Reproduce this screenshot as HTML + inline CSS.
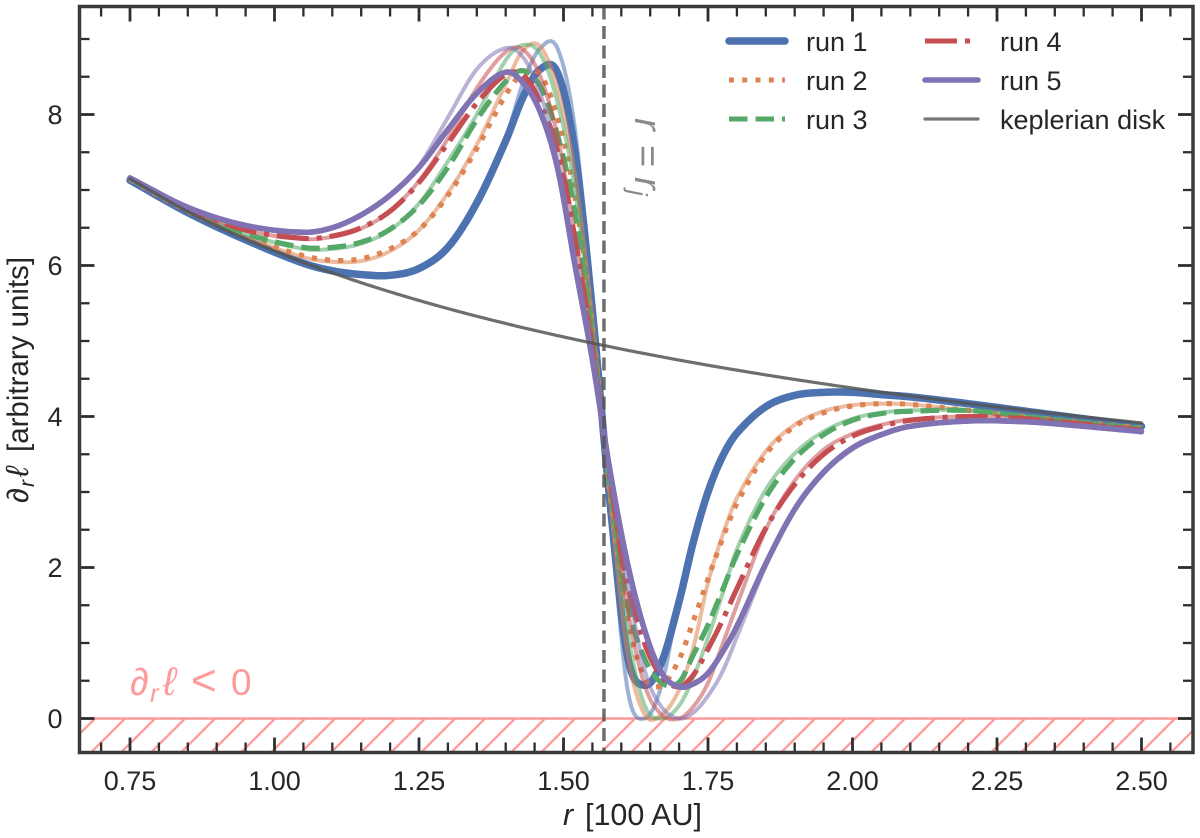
<!DOCTYPE html>
<html>
<head>
<meta charset="utf-8">
<title>Angular momentum gradient chart</title>
<style>
html,body{margin:0;padding:0;background:#fff;}
svg{display:block;font-family:"Liberation Sans",Arial,sans-serif;filter:blur(0.35px);}
</style>
</head>
<body>
<svg id="chart" width="1200" height="838" viewBox="0 0 1200 838" xmlns="http://www.w3.org/2000/svg">
  <rect x="0" y="0" width="1200" height="838" fill="#ffffff"/>
  <g id="hatch"></g>
  <g id="series"></g>
  <line id="vline" stroke="#555555" stroke-opacity="0.85" stroke-width="3.5" stroke-dasharray="13 6.5"/>
  <g id="ticks"></g>
  <rect x="79.5" y="6.5" width="1113.5" height="746" fill="none" stroke="#3a3a3a" stroke-width="3.5"/>
  <g id="labels" fill="#262626" font-size="27"></g>
  <text y="825" font-size="30.5" fill="#262626"><tspan x="563" font-style="italic">r</tspan><tspan x="585">[100 AU]</tspan></text>
  <text transform="translate(28,0) rotate(-90)" font-size="29.5" fill="#262626"><tspan x="-503" font-size="30">∂</tspan><tspan x="-487" font-size="21" dy="6" font-style="italic">r</tspan><tspan x="-477" dy="-6" font-size="32" font-style="italic">ℓ</tspan><tspan x="-452">[arbitrary units]</tspan></text>
  <text y="695" font-size="37" fill="#ff9a9a"><tspan x="130" font-size="38">∂</tspan><tspan x="150" font-size="26" dy="7" font-style="italic">r</tspan><tspan x="163" dy="-7" font-size="40" font-style="italic">ℓ</tspan><tspan x="191" font-size="44">&lt;</tspan><tspan x="231">0</tspan></text>
  <text transform="translate(635,118) rotate(90)" font-size="38" fill="#8a8a8a"><tspan x="0" font-style="italic">r</tspan><tspan x="27">=</tspan><tspan x="59" font-style="italic">r</tspan><tspan x="72" font-size="26" dy="6" font-style="italic">j</tspan></text>
  <g id="legend" font-size="27" fill="#262626"></g>
</svg>
<script>
// ---- data ----
const radius = [0.75,0.85,0.95,1.05,1.10,1.15,1.20,1.25,1.30,1.35,1.40,1.43,1.46,1.49,1.52,1.55,1.58,1.61,1.64,1.67,1.70,1.725,1.75,1.775,1.80,1.85,1.90,1.95,2.00,2.05,2.10,2.20,2.30,2.40,2.50];
const run1 = [7.13,6.70,6.34,6.03,5.93,5.88,5.87,5.96,6.24,6.83,7.65,8.23,8.60,8.55,7.50,5.40,2.90,0.85,0.44,0.75,1.55,2.35,3.00,3.47,3.78,4.13,4.28,4.32,4.32,4.29,4.26,4.17,4.07,3.97,3.87];
const run2 = [7.14,6.72,6.38,6.13,6.07,6.09,6.22,6.47,6.93,7.55,8.26,8.55,8.53,7.95,6.90,5.20,3.00,1.35,0.55,0.44,0.78,1.30,1.85,2.38,2.85,3.50,3.87,4.05,4.14,4.17,4.16,4.08,4.00,3.92,3.85];
const run3 = [7.15,6.74,6.42,6.24,6.24,6.31,6.48,6.80,7.30,7.93,8.44,8.58,8.37,7.72,6.70,5.05,3.10,1.55,0.80,0.47,0.48,0.85,1.24,1.70,2.17,2.93,3.44,3.76,3.95,4.04,4.07,4.08,4.00,3.92,3.84];
const run4 = [7.16,6.75,6.47,6.36,6.39,6.50,6.72,7.10,7.62,8.15,8.53,8.52,8.16,7.50,6.35,4.90,3.20,1.80,1.00,0.55,0.42,0.58,0.92,1.30,1.72,2.52,3.10,3.50,3.74,3.87,3.95,4.00,3.97,3.90,3.82];
const run5 = [7.16,6.77,6.53,6.44,6.50,6.67,6.93,7.30,7.80,8.28,8.56,8.42,8.03,7.28,6.00,4.75,3.30,2.08,1.18,0.60,0.42,0.46,0.60,0.88,1.22,2.05,2.77,3.26,3.58,3.76,3.87,3.94,3.93,3.87,3.80];
const envelope1 = [7.13,6.70,6.34,6.03,5.93,5.88,5.87,5.96,6.24,6.83,7.68,8.42,8.88,8.87,7.80,5.45,2.85,0.42,0.00,0.45,1.60,2.38,3.02,3.50,3.80,4.14,4.28,4.32,4.32,4.29,4.26,4.17,4.07,3.97,3.87];
const envelope2 = [7.14,6.72,6.38,6.11,6.05,6.06,6.19,6.47,6.96,7.60,8.40,8.85,8.90,8.33,7.20,5.30,2.95,0.90,0.06,0.05,0.38,0.95,1.80,2.42,2.92,3.54,3.89,4.07,4.15,4.17,4.16,4.08,4.00,3.92,3.85];
const envelope3 = [7.15,6.74,6.42,6.22,6.22,6.29,6.47,6.82,7.38,8.00,8.72,8.92,8.80,8.15,7.00,5.15,3.15,1.20,0.18,0.00,0.17,0.55,1.07,1.65,2.24,3.03,3.51,3.80,3.97,4.05,4.08,4.08,4.00,3.92,3.84];
const envelope4 = [7.16,6.75,6.47,6.35,6.38,6.49,6.72,7.12,7.68,8.35,8.83,8.86,8.50,7.70,6.40,5.00,3.25,1.50,0.45,0.05,0.00,0.16,0.47,0.98,1.50,2.50,3.15,3.56,3.77,3.89,3.96,4.00,3.97,3.90,3.82];
const envelope5 = [7.16,6.77,6.53,6.44,6.50,6.67,6.93,7.32,7.96,8.60,8.88,8.76,8.27,7.40,6.10,4.85,3.35,1.85,0.65,0.15,0.00,0.08,0.30,0.62,1.08,2.02,2.79,3.28,3.60,3.77,3.87,3.94,3.93,3.87,3.80];
const keplerian = [7.148,6.714,6.351,6.041,5.902,5.772,5.651,5.537,5.429,5.328,5.232,5.176,5.123,5.071,5.021,4.972,4.925,4.878,4.834,4.790,4.747,4.713,4.679,4.646,4.614,4.551,4.491,4.433,4.377,4.323,4.272,4.173,4.082,3.996,3.915];
const xTickValues = [0.75,1.00,1.25,1.50,1.75,2.00,2.25,2.50];
const xTickLabels = ['0.75','1.00','1.25','1.50','1.75','2.00','2.25','2.50'];
const yTickValues = [0,2,4,6,8];
const yTickLabels = ['0','2','4','6','8'];
const runLabels = ['run 1','run 2','run 3','run 4','run 5','keplerian disk'];
const jumpRadius = 1.57;

// ---- axes ----
const NS = 'http://www.w3.org/2000/svg';
const plotL = 79.5, plotR = 1193, plotT = 6.5, plotB = 752.5;
function xS(r){ return 130 + (r - 0.75) * 578; }
function yS(v){ return 718.5 - v * 75.5; }
function mk(tag, attrs, parent){
  const el = document.createElementNS(NS, tag);
  for (const k in attrs) el.setAttribute(k, attrs[k]);
  parent.appendChild(el);
  return el;
}
function curvePath(rs, vs){
  const n = rs.length, m = [];
  for (let i = 0; i < n; i++){
    const a = Math.max(0, i - 1), b = Math.min(n - 1, i + 1);
    m.push((vs[b] - vs[a]) / (rs[b] - rs[a]));
  }
  let d = 'M' + xS(rs[0]).toFixed(2) + ' ' + yS(vs[0]).toFixed(2);
  for (let i = 0; i < n - 1; i++){
    const h = rs[i + 1] - rs[i];
    for (let s = 1; s <= 8; s++){
      const t = s / 8, t2 = t * t, t3 = t2 * t;
      const v = (2*t3 - 3*t2 + 1) * vs[i] + (t3 - 2*t2 + t) * h * m[i] + (-2*t3 + 3*t2) * vs[i + 1] + (t3 - t2) * h * m[i + 1];
      const r = rs[i] + t * h;
      d += 'L' + xS(r).toFixed(2) + ' ' + yS(v).toFixed(2);
    }
  }
  return d;
}

// ---- hatch ----
const hatch = document.getElementById('hatch');
const hatchClip = mk('clipPath', {id:'hatch-clip'}, hatch);
mk('rect', {x:plotL, y:yS(0), width:plotR - plotL, height:plotB - yS(0)}, hatchClip);
const hatchLines = mk('g', {'clip-path':'url(#hatch-clip)'}, hatch);
for (let hx = 35; hx < 1260; hx += 30){
  const h = mk('line', {x1:hx - 36, y1:yS(0) + 36, x2:hx, y2:yS(0), stroke:'#ff9a9a', 'stroke-width':2.3}, hatchLines);
  
  
}
const zeroLine = mk('line', {x1:plotL, y1:yS(0), x2:plotR, y2:yS(0), stroke:'#ff9a9a', 'stroke-width':2.6}, hatch);



// ---- series ----
const seriesG = document.getElementById('series');
const colors = ['#4c72b0','#dd8452','#55a868','#c44e52','#8172b3'];
const dashes = [null,'5 8.25','18.5 8','32 8 5 8',null];
const widths = [7.5,5,5,5,5.5];
const thick = [run1,run2,run3,run4,run5];
const faint = [envelope1,envelope2,envelope3,envelope4,envelope5];
function styled(p, i){
  p.setAttribute('fill', 'none');
  p.setAttribute('stroke', colors[i]);
  p.setAttribute('stroke-width', widths[i]);
  p.setAttribute('stroke-linejoin', 'round');
  if (dashes[i]) { p.setAttribute('stroke-dasharray', dashes[i]); p.setAttribute('stroke-linecap', 'butt'); }
  else { p.setAttribute('stroke-linecap', 'round'); }
}
for (let i = 0; i < 5; i++){
  const t = mk('path', {d:curvePath(radius, thick[i])}, seriesG);
  styled(t, i);
  
  
  const f = mk('path', {d:curvePath(radius, faint[i]), fill:'none', stroke:colors[i], 'stroke-opacity':0.55, 'stroke-width':4, 'stroke-linejoin':'round'}, seriesG);
  
  
  if (dashes[i]) {
    const o = mk('path', {d:curvePath(radius, thick[i])}, seriesG);
    styled(o, i);
    
    
  }
}
const lastRun = mk('path', {d:curvePath(radius, run5)}, seriesG);
styled(lastRun, 4);


const kep = mk('path', {d:curvePath(radius, keplerian), fill:'none', stroke:'#555555', 'stroke-opacity':0.85, 'stroke-width':3.2, 'stroke-linecap':'round', 'stroke-linejoin':'round'}, seriesG);



// ---- vertical line ----
const vl = document.getElementById('vline');
vl.setAttribute('x1', xS(jumpRadius));
vl.setAttribute('x2', xS(jumpRadius));
vl.setAttribute('y1', plotT);
vl.setAttribute('y2', plotB);

// ---- ticks ----
const ticks = document.getElementById('ticks');
function tick(x1, y1, x2, y2, w){
  const t = mk('line', {x1:x1, y1:y1, x2:x2, y2:y2, stroke:'#2e2e2e', 'stroke-width':w}, ticks);
  
  
}
for (let k = 14; k <= 51; k++){
  const r = k * 0.05, x = xS(r);
  if (x < plotL || x > plotR) continue;
  const major = k % 5 === 0;
  const len = major ? 15 : 10;
  tick(x, plotB, x, plotB - len, major ? 2.8 : 2.3);
  tick(x, plotT, x, plotT + len, major ? 2.8 : 2.3);
}
for (let k = 0; k <= 18; k++){
  const v = k * 0.5, y = yS(v);
  const major = k % 4 === 0;
  const len = major ? 15 : 10;
  tick(plotL, y, plotL + len, y, major ? 2.8 : 2.3);
  tick(plotR, y, plotR - len, y, major ? 2.8 : 2.3);
}

// ---- tick labels ----
const labels = document.getElementById('labels');
xTickValues.forEach(function(v, i){
  const t = mk('text', {x:xS(v), y:790, 'text-anchor':'middle'}, labels);
  t.textContent = xTickLabels[i];
  
  
});
yTickValues.forEach(function(v, i){
  const t = mk('text', {x:62.5, y:yS(v) + 9.5, 'text-anchor':'end'}, labels);
  t.textContent = yTickLabels[i];
  
  
});

// ---- legend ----
const legend = document.getElementById('legend');
const legendCol = [[729,785,806],[925,978,1000]];
const legendRow = [41,80,119];
for (let i = 0; i < 6; i++){
  const c = legendCol[i < 3 ? 0 : 1], yy = legendRow[i % 3];
  const s = mk('line', {x1:c[0], y1:yy, x2:c[1], y2:yy}, legend);
  if (i < 5) styled(s, i);
  else { s.setAttribute('stroke', '#777777'); s.setAttribute('stroke-width', 3.2); s.setAttribute('stroke-linecap', 'round'); }
  
  
  const t = mk('text', {x:c[2], y:yy + 10}, legend);
  t.textContent = runLabels[i];
  
  
}
</script>
</body>
</html>
